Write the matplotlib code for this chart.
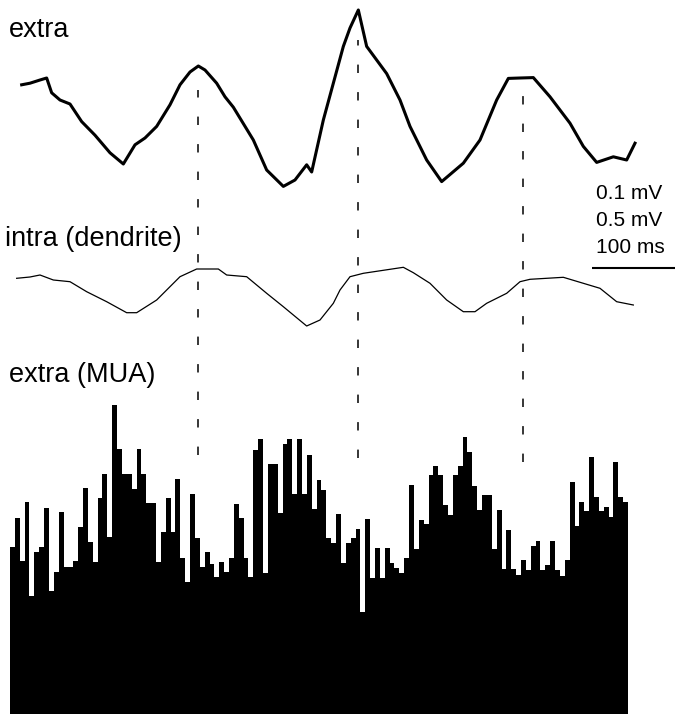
import matplotlib
matplotlib.use('Agg')
import matplotlib.pyplot as plt
import numpy as np

plt.rcParams['font.family'] = ['Liberation Sans', 'DejaVu Sans']

# extracellular field potential (time in ms, mV)
extra_t = [14, 24, 36, 44, 50, 60, 72, 86, 102, 120, 136, 150, 162, 176, 192, 204,
           216, 226, 234, 248, 258, 268, 292, 308, 328, 342, 356, 362, 376, 388,
           400, 408, 418, 428, 452, 468, 480, 500, 518, 544, 564, 584, 598, 612,
           628, 648, 672, 688, 704, 724, 740, 750]
extra_mv = [0.044, 0.046, 0.050, 0.0525, 0.034, 0.025, 0.020, -0.002, -0.019, -0.041,
            -0.055, -0.031, -0.0225, -0.008, 0.019, 0.044, 0.060, 0.0675, 0.0625,
            0.046, 0.029, 0.016, -0.025, -0.0625, -0.083, -0.075, -0.056, -0.065,
            0.0, 0.046, 0.092, 0.115, 0.1375, 0.092, 0.058, 0.025, -0.008, -0.05,
            -0.077, -0.054, -0.025, 0.025, 0.052, 0.0525, 0.053, 0.029, -0.004,
            -0.033, -0.053, -0.046, -0.05, -0.029]

# intracellular dendritic recording (time in ms, mV)
intra_t = [8, 24, 36, 52, 72, 92, 116, 140, 152, 176, 204, 224, 250, 260, 284, 308,
           328, 356, 372, 388, 396, 408, 424, 456, 472, 484, 504, 524, 544, 558,
           572, 596, 612, 624, 664, 688, 708, 728, 748]
intra_mv = [0.117, 0.13, 0.15, 0.10, 0.083, -0.017, -0.117, -0.227, -0.227, -0.10,
            0.133, 0.21, 0.21, 0.15, 0.133, -0.033, -0.167, -0.36, -0.30, -0.133,
            0.0, 0.133, 0.167, 0.207, 0.227, 0.173, 0.067, -0.10, -0.217, -0.217,
            -0.133, -0.033, 0.083, 0.107, 0.127, 0.067, 0.017, -0.117, -0.15]

# multi-unit activity histogram
bin_ms = 5.84
mua = [16.7, 19.6, 15.3, 21.2, 11.8, 16.2, 16.7, 20.6, 12.3, 14.2, 20.2, 14.7, 14.7,
       15.3, 18.7, 22.6, 17.2, 15.2, 21.6, 24.0, 17.7,
       30.9, 26.5, 24.0, 24.0, 22.5, 26.5, 24.0, 21.1, 21.1, 15.2, 18.2, 21.6, 18.2,
       23.5, 15.6, 13.2, 22.0, 17.6, 14.7, 16.2, 15.0,
       13.7, 15.2, 14.2, 15.6, 21.0, 19.6, 15.6, 13.7, 26.4, 27.5, 14.1, 25.0, 25.0,
       20.1, 27.0, 27.5, 22.0, 27.5, 22.0, 25.9, 20.5,
       23.4, 22.4, 17.6, 17.1, 20.0, 15.1, 17.1, 17.6, 18.5, 10.2, 19.5, 13.6, 16.6,
       13.6, 16.6, 15.1, 14.6, 14.1, 15.6, 22.9, 16.5,
       19.4, 19.0, 23.9, 24.8, 23.9, 20.9, 19.9, 23.9, 24.8, 27.7, 26.2, 22.8, 20.4,
       21.9, 21.9, 16.5, 20.4, 14.5, 18.4, 14.5, 13.9,
       15.4, 14.4, 16.8, 17.3, 14.4, 14.9, 17.3, 14.4, 13.8, 15.4, 23.2, 18.8, 21.2,
       20.3, 25.7, 21.7, 20.3, 20.7, 19.7, 25.2, 21.7, 21.2]

# times of the extracellular peaks (dashed markers)
peak_t = [226, 418, 616]
dash_top = [0.874, 0.944, 0.867]
dash_bottom = [0.363, 0.359, 0.353]

scale_ms = 100
scale_start = 698
scale_labels = ['0.1 mV', '0.5 mV', '100 ms']

fig = plt.figure(figsize=(6.75, 7.14), dpi=100)
xlim = (-12, 798)

ax_h = fig.add_axes([0, 0, 1, 1])
ax_e = fig.add_axes([0, 0, 1, 1])
ax_i = fig.add_axes([0, 0, 1, 1])
for ax in (ax_h, ax_e, ax_i):
    ax.set_xlim(*xlim)
    ax.axis('off')
    ax.patch.set_alpha(0)

# histogram
edges = np.arange(len(mua) + 1) * bin_ms
ax_h.stairs(mua, edges, fill=True, color='black', baseline=0)
ax_h.set_ylim(0, 71.4)

# traces
ax_e.plot(extra_t, extra_mv, color='black', lw=2.2, solid_joinstyle='round')
ax_e.set_ylim(-0.7425, 0.15)

ax_i.plot(intra_t, intra_mv, color='black', lw=0.9)
ax_i.set_ylim(-4.24, 2.9)

# dashed lines at the peaks
tr = ax_h.get_xaxis_transform()
for t, y0, y1 in zip(peak_t, dash_bottom, dash_top):
    ax_h.plot([t, t], [y0, y1], transform=tr, color='black', lw=1.1,
              dashes=(5.5, 12.5))

# scale bar
ax_h.plot([scale_start, scale_start + scale_ms], [1 - 268.3 / 714] * 2,
          transform=tr, color='black', lw=1.5, solid_capstyle='butt')

# labels
fig.text(0.0133, 0.9478, 'extra', fontsize=19.5, va='baseline')
fig.text(0.0074, 0.6555, 'intra (dendrite)', fontsize=19.5, va='baseline')
fig.text(0.0133, 0.465, 'extra (MUA)', fontsize=19.5, va='baseline')
for lab, yb in zip(scale_labels, [0.7209, 0.6835, 0.6452]):
    fig.text(0.8837, yb, lab, fontsize=15, va='baseline')

fig.savefig('out.png', dpi=100)
